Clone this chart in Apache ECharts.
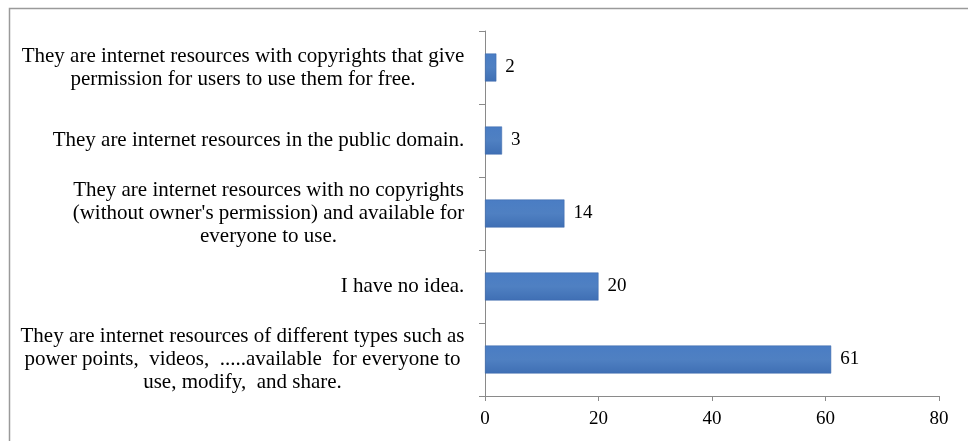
<!DOCTYPE html>
<html>
<head>
<meta charset="utf-8">
<script src="https://cdn.jsdelivr.net/npm/echarts@6/dist/echarts.min.js"></script>
<style>
  html, body { margin: 0; padding: 0; background: #fff; }
  #chart { width: 968px; height: 441px; }
</style>
</head>
<body>
<div id="chart"></div>
<script>
  // categories listed bottom to top (category axis on y starts at the bottom)
  var categories = [
    'They are internet resources of different types such as\npower points,  videos,  .....available  for everyone to\nuse, modify,  and share.',
    'I have no idea.',
    'They are internet resources with no copyrights\n(without owner\'s permission) and available for\neveryone to use.',
    'They are internet resources in the public domain.',
    'They are internet resources with copyrights that give\npermission for users to use them for free.'
  ]
  var values = [61, 20, 14, 3, 2]
  var xTicks = [0, 20, 40, 60, 80]

  var serif = '"Liberation Serif", "Times New Roman", serif'
  var labelSize = 21

  // width of the widest line of each label, so lines are centred inside a right-aligned block
  var ctx = document.createElement('canvas').getContext('2d')
  ctx.font = labelSize + 'px ' + serif
  var rich = {}
  categories.forEach(function (c, i) {
    var w = 0
    c.split('\n').forEach(function (line) {
      w = Math.max(w, ctx.measureText(line).width)
    })
    rich['c' + i] = {
      width: Math.ceil(w) + 1,
      align: 'center',
      fontFamily: serif,
      fontSize: labelSize,
      lineHeight: 23,
      color: '#000'
    }
  })

  var chart = echarts.init(document.getElementById('chart'))
  chart.setOption({
    animation: false,
    textStyle: { fontFamily: serif },
    grid: {
      left: 485,
      right: 29,
      top: 31,
      bottom: 45
    },
    graphic: [{
      type: 'rect',
      shape: { x: 9.5, y: 8.5, width: 1000, height: 500 },
      style: { fill: 'none', stroke: '#9a9a9a', lineWidth: 1.5 },
      silent: true
    }],
    xAxis: {
      type: 'value',
      min: xTicks[0],
      max: xTicks[xTicks.length - 1],
      interval: xTicks[1] - xTicks[0],
      splitLine: { show: false },
      axisLine: { show: true, lineStyle: { color: '#8a8a8a' } },
      axisTick: { show: true, length: 5, lineStyle: { color: '#8a8a8a' } },
      axisLabel: {
        color: '#000',
        fontFamily: serif,
        fontSize: 19,
        margin: 14
      }
    },
    yAxis: {
      type: 'category',
      data: categories,
      axisLine: { show: true, lineStyle: { color: '#8a8a8a' } },
      axisTick: { show: true, length: 6, lineStyle: { color: '#8a8a8a' } },
      axisLabel: {
        margin: 20,
        align: 'right',
        color: '#000',
        fontFamily: serif,
        fontSize: labelSize,
        lineHeight: 23,
        formatter: function (v, i) {
          return '{c' + i + '|' + v + '}'
        },
        rich: rich
      }
    },
    series: [{
      type: 'bar',
      data: values,
      barWidth: 28,
      itemStyle: {
        color: new echarts.graphic.LinearGradient(0, 0, 0, 1, [
          { offset: 0, color: '#4a7dc4' },
          { offset: 0.5, color: '#4f80c2' },
          { offset: 1, color: '#3f6fb4' }
        ]),
        borderColor: '#3b67a8',
        borderWidth: 0.5
      },
      label: {
        show: true,
        position: 'right',
        distance: 9,
        color: '#000',
        fontFamily: serif,
        fontSize: 19
      }
    }]
  })
</script>
</body>
</html>
